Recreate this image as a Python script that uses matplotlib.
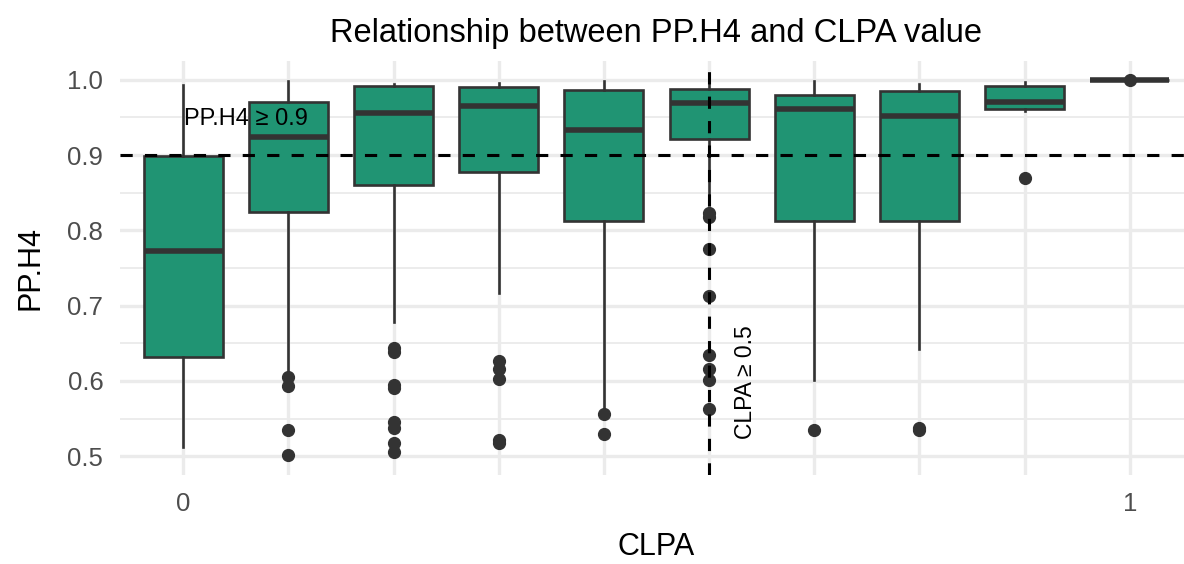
import numpy as np
import matplotlib.pyplot as plt

plt.rcParams['font.family'] = ['Liberation Sans', 'DejaVu Sans']

# box statistics, one entry per CLPA group
tick_labels = ['0', '', '', '', '', '', '', '', '', '1']
q1 = [0.632, 0.824, 0.860, 0.877, 0.813, 0.922, 0.813, 0.813, 0.961, 1.000]
med = [0.773, 0.924, 0.956, 0.965, 0.933, 0.969, 0.961, 0.952, 0.971, 1.000]
q3 = [0.899, 0.970, 0.992, 0.990, 0.986, 0.988, 0.980, 0.985, 0.992, 1.000]
whislo = [0.512, 0.610, 0.678, 0.717, 0.560, 0.848, 0.601, 0.642, 0.959, 1.000]
whishi = [0.993, 0.998, 0.995, 0.996, 0.998, 1.000, 0.999, 0.994, 0.997, 1.000]
fliers = [
    [],
    [0.605, 0.593, 0.535, 0.502],
    [0.644, 0.638, 0.594, 0.590, 0.545, 0.538, 0.518, 0.505],
    [0.627, 0.616, 0.602, 0.522, 0.517],
    [0.556, 0.530],
    [0.823, 0.818, 0.775, 0.713, 0.635, 0.616, 0.601, 0.563],
    [0.535],
    [0.538, 0.535],
    [0.869],
    [1.000],
]
pp_cut = 0.9
clpa_cut_pos = 5

fill = '#209473'
dark = '#333333'

fig = plt.figure(figsize=(11.84, 5.64), dpi=100)
ax = fig.add_axes([120 / 1184, 1 - 475 / 564, (1193 - 120) / 1184, (475 - 61) / 564])

pos = np.arange(len(med))
stats = []
for i in range(len(med)):
    stats.append(dict(med=med[i], q1=q1[i], q3=q3[i], whislo=whislo[i],
                      whishi=whishi[i], fliers=fliers[i]))

ax.bxp(stats, positions=pos, widths=0.75, patch_artist=True, showcaps=False,
       boxprops=dict(facecolor=fill, edgecolor=dark, linewidth=1.9),
       medianprops=dict(color=dark, linewidth=4, solid_capstyle='butt'),
       whiskerprops=dict(color=dark, linewidth=1.9),
       flierprops=dict(marker='o', markerfacecolor=dark, markeredgecolor=dark,
                       markersize=8.5, linestyle='none'),
       zorder=3)

ax.axhline(pp_cut, color='black', linestyle=(0, (4, 4)), linewidth=2.2, zorder=4)
ax.axvline(pos[clpa_cut_pos], color='black', linestyle=(0, (4, 4)), linewidth=2.2, zorder=4)

ax.text(0.6, 0.948, 'PP.H4 ≥ 0.9', ha='center', va='center', fontsize=17, color='black', zorder=5)
ax.text(5.345, 0.599, 'CLPA ≥ 0.5', ha='center', va='center', rotation=90,
        fontsize=16.5, color='black', zorder=5)

ax.set_xlim(-0.6, 9.6)
ax.set_ylim(0.475, 1.025)
ax.set_xticks(pos)
ax.set_xticklabels(tick_labels)
ax.set_yticks([0.5, 0.6, 0.7, 0.8, 0.9, 1.0])
ax.set_yticklabels(['0.5', '0.6', '0.7', '0.8', '0.9', '1.0'])
ax.set_yticks(np.arange(0.55, 1.0, 0.1), minor=True)

ax.grid(True, which='major', color='#ebebeb', linewidth=2.4, zorder=0)
ax.grid(True, which='minor', axis='y', color='#ebebeb', linewidth=1.3, zorder=0)
ax.set_axisbelow(True)
for s in ax.spines.values():
    s.set_visible(False)
ax.tick_params(which='both', length=0, labelsize=18.5, labelcolor='#4d4d4d', pad=12)

ax.set_xlabel('CLPA', fontsize=22, labelpad=12)
ax.set_ylabel('PP.H4', fontsize=22, labelpad=16)
ax.set_title('Relationship between PP.H4 and CLPA value', fontsize=23.5, pad=14)

fig.savefig('out.png', dpi=100)
